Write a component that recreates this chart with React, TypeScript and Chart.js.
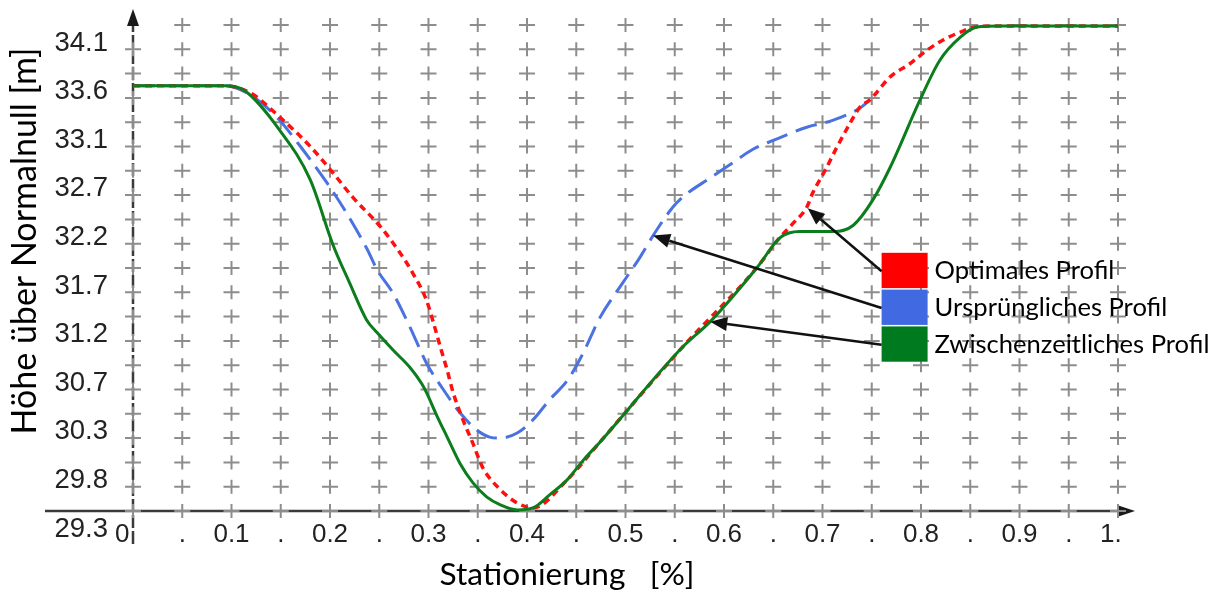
import React, { useEffect, useRef } from 'react';
import { Chart, registerables } from 'chart.js';

Chart.register(...registerables);

// ---------- data ----------
const seriesLabels = ['Optimales Profil', 'Ursprüngliches Profil', 'Zwischenzeitliches Profil'];

const optimalX = [0, 0.093, 0.119, 0.149, 0.18, 0.203, 0.223, 0.251, 0.271, 0.284, 0.298, 0.305, 0.312, 0.319, 0.325, 0.335, 0.345, 0.355, 0.373, 0.39, 0.406, 0.441, 0.474, 0.558, 0.634, 0.654, 0.67, 0.684, 0.69, 0.703, 0.715, 0.728, 0.738, 0.748, 0.769, 0.789, 0.806, 0.822, 0.84, 0.855, 0.88, 1.0];
const optimalY = [33.5, 33.5, 33.43, 33.19, 32.9, 32.64, 32.4, 32.11, 31.85, 31.65, 31.38, 31.16, 30.92, 30.69, 30.47, 30.2, 29.97, 29.73, 29.51, 29.38, 29.33, 29.61, 29.98, 30.92, 31.71, 31.97, 32.14, 32.3, 32.44, 32.67, 32.9, 33.13, 33.29, 33.36, 33.59, 33.72, 33.85, 33.95, 34.03, 34.08, 34.09, 34.09];

const originalX = [0, 0.093, 0.119, 0.146, 0.17, 0.197, 0.217, 0.238, 0.248, 0.264, 0.281, 0.298, 0.315, 0.332, 0.349, 0.362, 0.373, 0.39, 0.406, 0.423, 0.441, 0.457, 0.474, 0.497, 0.515, 0.528, 0.548, 0.558, 0.586, 0.609, 0.629, 0.65, 0.684, 0.711, 0.738, 0.748];
const originalY = [33.5, 33.5, 33.41, 33.19, 32.9, 32.54, 32.24, 31.88, 31.68, 31.45, 31.12, 30.76, 30.5, 30.27, 30.1, 30.03, 30.02, 30.07, 30.2, 30.4, 30.59, 30.86, 31.21, 31.55, 31.81, 32.02, 32.3, 32.4, 32.59, 32.74, 32.87, 32.96, 33.09, 33.16, 33.28, 33.36];

const interimX = [0, 0.093, 0.112, 0.149, 0.18, 0.203, 0.22, 0.237, 0.248, 0.264, 0.281, 0.293, 0.298, 0.309, 0.319, 0.332, 0.345, 0.359, 0.373, 0.39, 0.406, 0.423, 0.441, 0.457, 0.474, 0.558, 0.586, 0.634, 0.657, 0.677, 0.711, 0.731, 0.751, 0.769, 0.799, 0.819, 0.84, 0.857, 0.88, 1.0];
const interimY = [33.5, 33.5, 33.46, 33.06, 32.57, 31.93, 31.55, 31.19, 31.06, 30.89, 30.72, 30.56, 30.47, 30.23, 30.03, 29.77, 29.58, 29.44, 29.36, 29.31, 29.33, 29.46, 29.61, 29.8, 29.98, 30.92, 31.17, 31.71, 32.0, 32.06, 32.06, 32.12, 32.37, 32.7, 33.36, 33.75, 33.98, 34.08, 34.09, 34.09];

const xGridValues = [0, 0.05, 0.1, 0.15, 0.2, 0.25, 0.3, 0.35, 0.4, 0.45, 0.5, 0.55, 0.6, 0.65, 0.7, 0.75, 0.8, 0.85, 0.9, 0.95, 1];
const xTickLabels = ['0', '.', '0.1', '.', '0.2', '.', '0.3', '.', '0.4', '.', '0.5', '.', '0.6', '.', '0.7', '.', '0.8', '.', '0.9', '.', '1.'];
const yGridValues = [29.3, 29.54, 29.78, 30.02, 30.26, 30.5, 30.74, 30.98, 31.22, 31.46, 31.7, 31.94, 32.18, 32.42, 32.66, 32.9, 33.14, 33.38, 33.62, 33.86, 34.1];
const yTickLabels = ['29.3', '', '29.8', '', '30.3', '', '30.7', '', '31.2', '', '31.7', '', '32.2', '', '32.7', '', '33.1', '', '33.6', '', '34.1'];

const xTitle = 'Stationierung   [%]';
const yTitle = 'Höhe über Normalnull [m]';

// annotation arrows (data coordinates of arrow tips), in legend order
const arrowTipX = [0.685, 0.528, 0.586];
const arrowTipY = [32.29, 32.02, 31.17];
// legend anchor (top-left of first legend box, data coordinates)
const legendAnchorX = 0.76;
const legendAnchorY = 31.85;

const seriesColors = ['#ff1010', '#4a72e0', '#0b7d1d'];
const legendColors = ['#ff0000', '#4169e1', '#007a1e'];

const TITLE_FONT = 'Lato, "Open Sans", sans-serif';
const NUM_FONT = '"Liberation Sans", Arial, sans-serif';

function fitSize(ctx: CanvasRenderingContext2D, text: string, family: string, target: number) {
  ctx.font = `40px ${family}`;
  const w = ctx.measureText(text).width;
  return (40 * target) / w;
}

function arrow(ctx: CanvasRenderingContext2D, x0: number, y0: number, x1: number, y1: number) {
  const a = Math.atan2(y1 - y0, x1 - x0);
  const len = 17;
  const hw = 7;
  const bx = x1 - len * Math.cos(a);
  const by = y1 - len * Math.sin(a);
  ctx.beginPath();
  ctx.moveTo(x0, y0);
  ctx.lineTo(bx, by);
  ctx.stroke();
  ctx.beginPath();
  ctx.moveTo(x1, y1);
  ctx.lineTo(bx + hw * Math.sin(a), by - hw * Math.cos(a));
  ctx.lineTo(bx - hw * Math.sin(a), by + hw * Math.cos(a));
  ctx.closePath();
  ctx.fill();
}

const decorPlugin = {
  id: 'decor',
  beforeDatasetsDraw(chart: any) {
    const { ctx, chartArea: ca } = chart;
    const xs = chart.scales.x;
    const ys = chart.scales.y;
    ctx.save();
    // axes
    ctx.strokeStyle = '#3a3a3a';
    ctx.fillStyle = '#1a1a1a';
    ctx.lineWidth = 2.5;
    ctx.beginPath();
    ctx.moveTo(ca.left - 88, ca.bottom);
    ctx.lineTo(ca.right + 2, ca.bottom);
    ctx.stroke();
    ctx.beginPath();
    ctx.moveTo(ca.right + 17, ca.bottom);
    ctx.lineTo(ca.right - 1, ca.bottom - 6);
    ctx.lineTo(ca.right - 1, ca.bottom + 6);
    ctx.closePath();
    ctx.fill();
    ctx.setLineDash([13, 3]);
    ctx.beginPath();
    ctx.moveTo(ca.left, ca.bottom + 33);
    ctx.lineTo(ca.left, ca.top);
    ctx.stroke();
    ctx.setLineDash([]);
    ctx.beginPath();
    ctx.moveTo(ca.left, ca.top - 16);
    ctx.lineTo(ca.left - 6, ca.top + 1);
    ctx.lineTo(ca.left + 6, ca.top + 1);
    ctx.closePath();
    ctx.fill();
    // cross grid
    ctx.strokeStyle = '#8d8d8d';
    ctx.lineWidth = 2;
    for (const xv of xGridValues) {
      const px = xs.getPixelForValue(xv);
      for (const yv of yGridValues) {
        const py = ys.getPixelForValue(yv);
        if (xv === 0 && yv === yGridValues[yGridValues.length - 1]) continue;
        ctx.beginPath();
        ctx.moveTo(px - 8, py);
        ctx.lineTo(px + 8, py);
        ctx.moveTo(px, py - 7);
        ctx.lineTo(px, py + 7);
        ctx.stroke();
      }
    }
    ctx.restore();
  },
  afterDatasetsDraw(chart: any) {
    const { ctx, chartArea: ca } = chart;
    const xs = chart.scales.x;
    const ys = chart.scales.y;
    ctx.save();

    // x tick labels, decimal point aligned on the tick
    ctx.fillStyle = '#222';
    ctx.font = `26px ${NUM_FONT}`;
    ctx.textAlign = 'left';
    ctx.textBaseline = 'alphabetic';
    const dotW = ctx.measureText('.').width;
    xGridValues.forEach((xv, i) => {
      const label = xTickLabels[i];
      const px = xs.getPixelForValue(xv);
      const d = label.indexOf('.');
      const pre = d >= 0 ? label.slice(0, d) : label;
      const preW = ctx.measureText(pre).width;
      ctx.fillText(label, px - preW - dotW / 2, ca.bottom + 31);
    });

    // legend
    const lx = xs.getPixelForValue(legendAnchorX);
    const ly = ys.getPixelForValue(legendAnchorY);
    const rowH = 36.8;
    const boxW = 46;
    const lgSize = fitSize(ctx, seriesLabels[2], TITLE_FONT, 275);
    ctx.textBaseline = 'middle';
    ctx.textAlign = 'left';
    seriesLabels.forEach((lab, i) => {
      ctx.fillStyle = legendColors[i];
      ctx.fillRect(lx, ly + i * rowH, boxW, rowH - 1.5);
      ctx.fillStyle = '#000';
      ctx.font = `${lgSize}px ${TITLE_FONT}`;
      ctx.fillText(lab, lx + boxW + 7, ly + i * rowH + rowH / 2);
    });

    // arrows from the legend to the curves
    ctx.strokeStyle = '#111';
    ctx.fillStyle = '#111';
    ctx.lineWidth = 2.5;
    seriesLabels.forEach((_, i) => {
      const tx = xs.getPixelForValue(arrowTipX[i]);
      const ty = ys.getPixelForValue(arrowTipY[i]);
      arrow(ctx, lx, ly + i * rowH + rowH / 2, tx, ty);
    });

    // axis titles
    ctx.fillStyle = '#000';
    const xtSize = fitSize(ctx, xTitle, TITLE_FONT, 255);
    ctx.font = `${xtSize}px ${TITLE_FONT}`;
    ctx.textAlign = 'center';
    ctx.textBaseline = 'middle';
    ctx.fillText(xTitle, ca.left + 434, ca.bottom + 64);

    const ytSize = fitSize(ctx, yTitle, TITLE_FONT, 387);
    ctx.font = `${ytSize}px ${TITLE_FONT}`;
    ctx.translate(ca.left - 108, ca.top + 216);
    ctx.rotate(-Math.PI / 2);
    ctx.fillText(yTitle, 0, 0);
    ctx.restore();
  },
};

function pts(xs: number[], ys: number[]) {
  return xs.map((x, i) => ({ x, y: ys[i] }));
}

export default function App() {
  const ref = useRef<HTMLCanvasElement>(null);
  useEffect(() => {
    if (!ref.current) return;
    const chart = new Chart(ref.current, {
      type: 'line',
      data: {
        datasets: [
          {
            label: seriesLabels[0],
            data: pts(optimalX, optimalY),
            borderColor: seriesColors[0],
            borderWidth: 3.5,
            borderDash: [7, 5],
            pointRadius: 0,
            cubicInterpolationMode: 'monotone',
            clip: false,
            order: 1,
          },
          {
            label: seriesLabels[1],
            data: pts(originalX, originalY),
            borderColor: seriesColors[1],
            borderWidth: 3,
            borderDash: [22, 9],
            pointRadius: 0,
            cubicInterpolationMode: 'monotone',
            clip: false,
            order: 2,
          },
          {
            label: seriesLabels[2],
            data: pts(interimX, interimY),
            borderColor: seriesColors[2],
            borderWidth: 3,
            pointRadius: 0,
            cubicInterpolationMode: 'monotone',
            clip: false,
            order: 0,
          },
        ],
      },
      options: {
        responsive: false,
        animation: false,
        events: [],
        layout: { padding: { top: 25, right: 104, bottom: 86, left: 0 } },
        plugins: { legend: { display: false }, tooltip: { enabled: false } },
        scales: {
          x: {
            type: 'linear',
            min: 0,
            max: 1,
            display: false,
          },
          y: {
            type: 'linear',
            min: 29.3,
            max: 34.1,
            afterFit: (s: any) => {
              s.width = 133;
              s.paddingTop = 0;
              s.paddingBottom = 0;
              s.paddingLeft = 0;
              s.paddingRight = 0;
            },
            afterBuildTicks: (s: any) => {
              s.ticks = yGridValues.map((v) => ({ value: v }));
            },
            grid: { display: false, drawTicks: false },
            border: { display: false },
            ticks: {
              autoSkip: false,
              padding: 25,
              labelOffset: 18,
              color: '#222',
              font: { family: NUM_FONT, size: 27.5 },
              callback: (_v: any, i: number) => yTickLabels[i] ?? '',
            },
          },
        },
      },
      plugins: [decorPlugin],
    } as any);
    return () => chart.destroy();
  }, []);
  return (
    <div style={{ position: 'absolute', left: 0, top: 0, width: 1222, height: 597, background: '#fff' }}>
      <canvas ref={ref} width={1222} height={597} style={{ display: 'block' }} />
    </div>
  );
}
